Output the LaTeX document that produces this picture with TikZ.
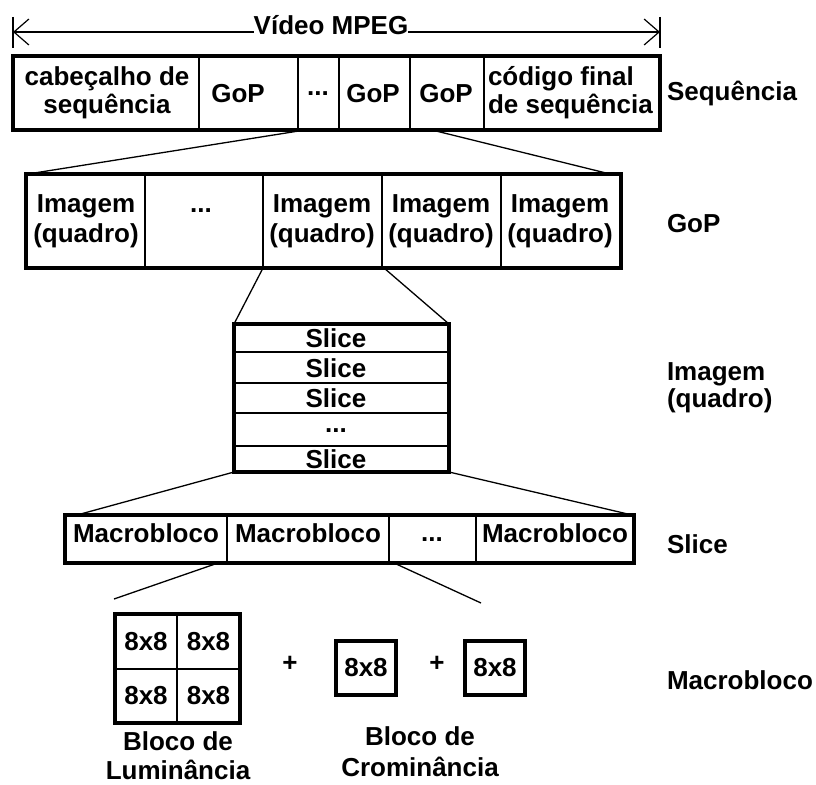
\documentclass[tikz,border=0pt]{standalone}
\usepackage{fontspec}
\setmainfont{Liberation Sans}
\usetikzlibrary{arrows.meta}
\tikzset{
  txtfont/.style={font=\bfseries\fontsize{26}{28}\selectfont},
  cell/.style={draw, line width=1.3pt, inner sep=0pt, outer sep=0pt, anchor=north west, txtfont},
  frame/.style={line width=4pt},
  conn/.style={line width=1.3pt},
  txt/.style={inner sep=0pt, outer sep=0pt, anchor=base, align=center, txtfont},
  ltxt/.style={txt, anchor=base west, align=left},
  blk/.style={draw, line width=4pt, inner sep=0pt, outer sep=0pt,
    minimum width=60pt, minimum height=54pt, txtfont},
  dimline/.style={line width=1.2pt},
  barb/.style={-{Straight Barb[length=15pt,width=26pt,line width=1.2pt]}},
}
% \mkcell[text]{name}{x1}{y1}{x2}{y2}: one rectangular field of a record
\newcommand\mkcell[6][]{\node[cell,minimum width={#5-#3},minimum height={#6-#4}] (#2) at (#3,#4) {#1};}
\begin{document}
\begin{tikzpicture}[x=1pt,y=-1pt]
\useasboundingbox (0,0) rectangle (816,784);

% ---- overall extent of the MPEG video
\coordinate (vl) at (13,32);
\coordinate (vr) at (660,32);
\draw[dimline] (13,17) -- (13,48);
\draw[dimline] (660,17) -- (660,48);
\node[txt] (vid) at (331,35) {Vídeo MPEG};
\draw[dimline,barb] (vid.west |- vl) -- (vl);
\draw[dimline,barb] (vid.east |- vr) -- (vr);

% ---- sequence layer (multi-line texts are placed by their last baseline)
\mkcell{s1}{13}{56}{199}{130}
\mkcell{s2}{199}{56}{298}{130}
\mkcell{s3}{298}{56}{339}{130}
\mkcell{s4}{339}{56}{410}{130}
\mkcell{s5}{410}{56}{484}{130}
\mkcell{s6}{484}{56}{660}{130}
\node[txt] (ts1) at (107,113) {cabeçalho de\\sequência};
\node[txt] (ts2) at (238,102) {GoP};
\node[txt] (ts3) at (318,95) {...};
\node[txt] (ts4) at (373,102) {GoP};
\node[txt] (ts5) at (446,102) {GoP};
\node[ltxt] (ts6) at (488,113) {código final\\de sequência};
\node[ltxt] (lseq) at (667,100) {Sequência};

% ---- group of pictures layer
\mkcell{g1}{26}{174}{145}{268}
\mkcell{g2}{145}{174}{263}{268}
\mkcell{g3}{263}{174}{382}{268}
\mkcell{g4}{382}{174}{501}{268}
\mkcell{g5}{501}{174}{621}{268}
\node[txt] (tg1) at (86,242) {Imagem\\[2pt](quadro)};
\node[txt] (tg2) at (201,212) {...};
\node[txt] (tg3) at (322,242) {Imagem\\[2pt](quadro)};
\node[txt] (tg4) at (441,242) {Imagem\\[2pt](quadro)};
\node[txt] (tg5) at (560,242) {Imagem\\[2pt](quadro)};
\node[ltxt] (lgop) at (667,232) {GoP};

% ---- picture layer
\mkcell{i1}{234}{324}{449}{352}
\mkcell{i2}{234}{352}{449}{383}
\mkcell{i3}{234}{383}{449}{413}
\mkcell{i4}{234}{413}{449}{446}
\mkcell{i5}{234}{446}{449}{472}
\node[txt] (ti1) at (336,347) {Slice};
\node[txt] (ti2) at (336,377) {Slice};
\node[txt] (ti3) at (336,407) {Slice};
\node[txt] (ti4) at (336,432) {...};
\node[txt] (ti5) at (336,468) {Slice};
\node[ltxt] (limg) at (667,407) {Imagem\\[-1pt](quadro)};

% ---- slice layer
\mkcell{m1}{65}{515}{227}{563}
\mkcell{m2}{227}{515}{389}{563}
\mkcell{m3}{389}{515}{476}{563}
\mkcell{m4}{476}{515}{634}{563}
\node[txt] (tm1) at (146,542) {Macrobloco};
\node[txt] (tm2) at (308,542) {Macrobloco};
\node[txt] (tm3) at (432,541) {...};
\node[txt] (tm4) at (555,542) {Macrobloco};
\node[ltxt] (lslice) at (667,553) {Slice};

% ---- macroblock layer
\mkcell[8x8]{l1}{115}{614}{177}{669}
\mkcell[8x8]{l2}{177}{614}{240}{669}
\mkcell[8x8]{l3}{115}{669}{177}{723}
\mkcell[8x8]{l4}{177}{669}{240}{723}
\node[txt,anchor=center] (p1) at (290,664) {+};
\node[blk] (c1) at (366,668) {8x8};
\node[txt,anchor=center] (p2) at (437,664) {+};
\node[blk] (c2) at (495,668) {8x8};
\node[txt] (tlum) at (178,779) {Bloco de\\[1pt]Luminância};
\node[txt] (tcrom) at (420,776) {Bloco de\\[3pt]Crominância};
\node[ltxt] (lmacro) at (667,689) {Macrobloco};

% ---- zoom-in connectors between the layers
\coordinate (ml) at (114,599);
\coordinate (mr) at (481,603);
\draw[conn] ([xshift=7pt]s3.south west) -- ([xshift=2pt]g1.north west);
\draw[conn] ([xshift=22pt]s5.south west) -- ([xshift=-11pt]g5.north east);
\draw[conn] (g3.south west) -- (i1.north west);
\draw[conn] ([xshift=2pt]g4.south west) -- (i1.north east);
\draw[conn] (i5.south west) -- ([xshift=12pt]m1.north west);
\draw[conn] (i5.south east) -- ([xshift=-2pt]m4.north east);
\draw[conn] ([xshift=-9pt]m2.south west) -- (ml);
\draw[conn] ([xshift=5pt]m3.south west) -- (mr);

% ---- heavy outlines of the records
\draw[frame] (s1.north west) rectangle (s6.south east);
\draw[frame] (g1.north west) rectangle (g5.south east);
\draw[frame] (i1.north west) rectangle (i5.south east);
\draw[frame] (m1.north west) rectangle (m4.south east);
\draw[frame] (l1.north west) rectangle (l4.south east);
\end{tikzpicture}
\end{document}
